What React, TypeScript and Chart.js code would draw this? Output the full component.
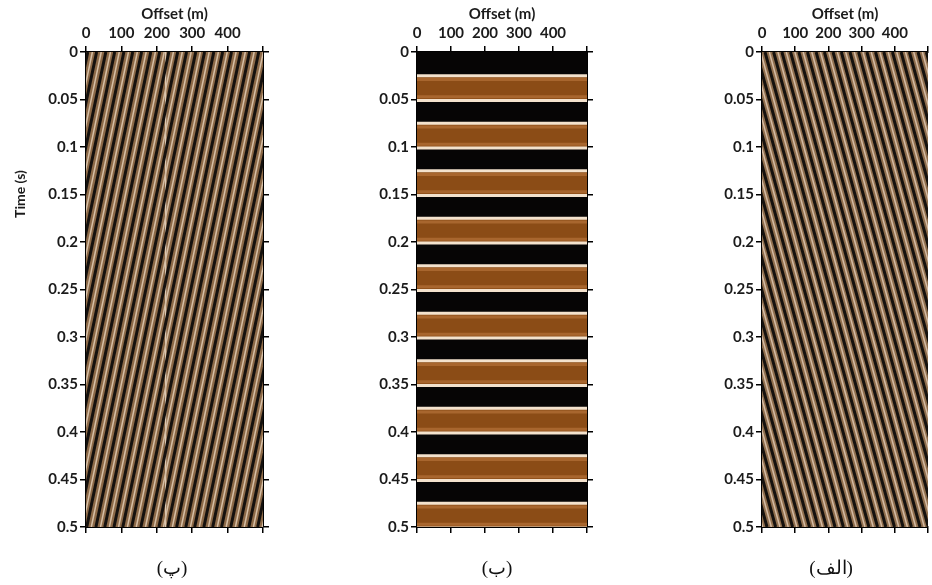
import React, { useEffect, useRef } from "react";
import { Chart, registerables } from "chart.js";

Chart.register(...registerables);

// ---------- axes ----------
const offsetTickValues = [0, 100, 200, 300, 400, 500];
const offsetTickLabels = ["0", "100", "200", "300", "400", ""];
const timeTickValues = [0, 0.05, 0.1, 0.15, 0.2, 0.25, 0.3, 0.35, 0.4, 0.45, 0.5];
const timeTickLabels = ["0", "0.05", "0.1", "0.15", "0.2", "0.25", "0.3", "0.35", "0.4", "0.45", "0.5"];
const OFFSET_MIN = 0;
const OFFSET_MAX = 500;
const TIME_MIN = 0;
const TIME_MAX = 0.5;

const panelLabels = ["(پ)", "(ب)", "(الف)"];
const xTitle = "Offset (m)";
const yTitle = "Time (s)";

// ---------- panel (پ): dipping events, offset (m) at t = 0 ----------
const panelPDarkTop = [5, 30, 56, 81, 107, 132, 157, 183, 208, 234, 259, 284, 310, 335, 361, 386, 411, 437, 462, 488, 513, 538, 564, 589, 615, 640, 665, 691, 716, 742, 767, 792];
const panelPLightTop = [18, 43, 69, 94, 120, 145, 170, 196, 221, 247, 272, 297, 323, 348, 374, 399, 424, 450, 475, 501, 526, 551, 577, 602, 628, 653, 678, 704, 729, 755, 780, 805];
const panelPShift = -282; // offset change of each event between t=0 and t=0.5 s
const panelPSeam = [225];

// ---------- panel (ب): flat events, time (s) of band edges ----------
const panelBBandTop = [0.025, 0.075, 0.125, 0.175, 0.225, 0.275, 0.325, 0.375, 0.425, 0.475];
const panelBBandBottom = [0.051, 0.101, 0.151, 0.201, 0.251, 0.301, 0.351, 0.401, 0.451, 0.501];
const panelBEdgeHalo = 0.004; // width (s) of the lighter rim inside each band

// ---------- panel (الف): dipping events, offset (m) at t = 0 ----------
const panelADarkTop = [-401, -375, -349, -324, -298, -273, -247, -221, -196, -170, -145, -119, -93, -68, -42, -17, 9, 35, 60, 86, 111, 137, 163, 188, 214, 239, 265, 291, 316, 342, 367, 393, 419, 444, 470, 495];
const panelALightTop = [-388, -362, -336, -311, -285, -260, -234, -208, -183, -157, -132, -106, -80, -55, -29, -4, 22, 48, 73, 99, 124, 150, 176, 201, 227, 252, 278, 304, 329, 355, 380, 406, 432, 457, 483, 508];
const panelAShift = 390;

// ---------- styling ----------
const FONT = "Lato, 'Noto Sans', sans-serif";
const TEXT = "#1b1b1b";

const areaFill = {
  id: "areaFill",
  beforeDatasetsDraw(chart: any, _a: any, opts: any) {
    const { ctx, chartArea: a } = chart;
    if (!opts || !opts.color) return;
    ctx.save();
    ctx.fillStyle = opts.color;
    ctx.fillRect(a.left, a.top, a.width, a.height);
    ctx.restore();
  },
};

const sideTitle = {
  id: "sideTitle",
  afterDraw(chart: any, _a: any, opts: any) {
    if (!opts || !opts.text) return;
    const { ctx } = chart;
    ctx.save();
    ctx.translate(opts.x, opts.y);
    ctx.rotate(-Math.PI / 2);
    ctx.font = `bold 14px ${FONT}`;
    ctx.fillStyle = TEXT;
    ctx.textAlign = "center";
    ctx.textBaseline = "middle";
    ctx.fillText(opts.text, 0, 0);
    ctx.restore();
  },
};

function stripe(top: number, shift: number, color: string, width: number) {
  return {
    data: [
      { x: top, y: TIME_MIN },
      { x: top + shift, y: TIME_MAX },
    ],
    borderColor: color,
    borderWidth: width,
    pointRadius: 0,
    fill: false,
    tension: 0,
    clip: 0,
  };
}

function flat(t: number, color: string, width: number, fill: any, bg?: string) {
  return {
    data: [
      { x: OFFSET_MIN, y: t },
      { x: OFFSET_MAX, y: t },
    ],
    borderColor: color,
    borderWidth: width,
    pointRadius: 0,
    fill,
    backgroundColor: bg || "transparent",
    tension: 0,
    clip: 0,
  };
}

type Layout = {
  left: number;
  width: number;
  leftAxis: number;
  rightAxis: number;
  yTitle?: string;
};

const TOP_AXIS_H = 52;
const BOTTOM_AXIS_H = 58;
const HEIGHT = 585;

function scales(layout: Layout) {
  const tickFont = { family: FONT, size: 15, weight: "bold" as const };
  const grid = {
    display: true,
    drawOnChartArea: false,
    drawTicks: true,
    tickLength: 6,
    color: "#000",
    lineWidth: 1.5,
  };
  const border = { display: true, color: "#000", width: 2 };
  return {
    x: {
      type: "linear",
      axis: "x",
      position: "top",
      min: OFFSET_MIN,
      max: OFFSET_MAX,
      z: 1,
      grid,
      border,
      afterBuildTicks: (s: any) => {
        s.ticks = offsetTickValues.map((v) => ({ value: v }));
      },
      ticks: {
        autoSkip: false,
        maxRotation: 0,
        padding: 4,
        color: TEXT,
        font: tickFont,
        callback: (_v: any, i: number) => offsetTickLabels[i],
      },
      title: {
        display: true,
        text: xTitle,
        color: TEXT,
        font: { family: FONT, size: 15, weight: "bold" as const },
        padding: { top: 5, bottom: 0 },
      },
      afterFit: (s: any) => {
        s.height = TOP_AXIS_H;
      },
    },
    x2: {
      type: "linear",
      axis: "x",
      position: "bottom",
      min: OFFSET_MIN,
      max: OFFSET_MAX,
      z: 1,
      grid,
      border,
      afterBuildTicks: (s: any) => {
        s.ticks = offsetTickValues.map((v) => ({ value: v }));
      },
      ticks: { autoSkip: false, callback: () => "", padding: 0 },
      afterFit: (s: any) => {
        s.height = BOTTOM_AXIS_H;
      },
    },
    y: {
      type: "linear",
      axis: "y",
      position: "left",
      reverse: true,
      min: TIME_MIN,
      max: TIME_MAX,
      z: 1,
      grid,
      border,
      afterBuildTicks: (s: any) => {
        s.ticks = timeTickValues.map((v) => ({ value: v }));
      },
      ticks: {
        autoSkip: false,
        padding: 2,
        color: TEXT,
        font: tickFont,
        callback: (_v: any, i: number) => timeTickLabels[i],
      },
      afterFit: (s: any) => {
        s.width = layout.leftAxis;
      },
    },
    y2: {
      type: "linear",
      axis: "y",
      position: "right",
      display: layout.rightAxis > 0,
      reverse: true,
      min: TIME_MIN,
      max: TIME_MAX,
      z: 1,
      grid,
      border,
      afterBuildTicks: (s: any) => {
        s.ticks = timeTickValues.map((v) => ({ value: v }));
      },
      ticks: { autoSkip: false, callback: () => "", padding: 0 },
      afterFit: (s: any) => {
        s.width = layout.rightAxis;
      },
    },
  };
}

function panelP() {
  const ds: any[] = [];
  panelPDarkTop.forEach((t) => ds.push(stripe(t, panelPShift, "#15110e", 3)));
  panelPLightTop.forEach((t) => ds.push(stripe(t, panelPShift, "#d6bfa6", 1.5)));
  panelPSeam.forEach((o) =>
    ds.push({
      data: [
        { x: o, y: TIME_MIN },
        { x: o, y: TIME_MAX },
      ],
      borderColor: "rgba(225,205,185,0.7)",
      borderWidth: 1,
      pointRadius: 0,
      fill: false,
      clip: 0,
    })
  );
  return { datasets: ds, bg: "#8c6947" };
}

function panelB() {
  const edges: any[] = [];
  const rims: any[] = [];
  const fills: any[] = [];
  panelBBandTop.forEach((t, i) => {
    const b = panelBBandBottom[i];
    edges.push(flat(t, "#f3e2cd", 3, false));
    edges.push(flat(b, "#f3e2cd", 3, false));
    rims.push(flat(t + panelBEdgeHalo, "#a8662e", 3, false));
    rims.push(flat(b - panelBEdgeHalo, "#a8662e", 3, false));
    fills.push(flat(t, "transparent", 0, false));
    fills.push(flat(b, "transparent", 0, "-1", "#8b4c16"));
  });
  // first datasets are drawn on top: white edges, then rims, then fills
  return { datasets: [...edges, ...rims, ...fills], bg: "#060505" };
}

function panelA() {
  const ds: any[] = [];
  panelADarkTop.forEach((t) => ds.push(stripe(t, panelAShift, "#15110e", 3)));
  panelALightTop.forEach((t) => ds.push(stripe(t, panelAShift, "#d4bba4", 1.5)));
  return { datasets: ds, bg: "#8f6e4d" };
}

function Panel({ layout, build }: { layout: Layout; build: () => { datasets: any[]; bg: string } }) {
  const ref = useRef<HTMLCanvasElement | null>(null);
  useEffect(() => {
    if (!ref.current) return;
    const { datasets, bg } = build();
    const chart = new Chart(ref.current, {
      type: "line",
      data: { datasets },
      options: {
        responsive: false,
        animation: false,
        devicePixelRatio: 1,
        layout: { padding: 0 },
        events: [],
        plugins: {
          legend: { display: false },
          tooltip: { enabled: false },
          filler: { propagate: false },
          areaFill: { color: bg },
          sideTitle: layout.yTitle ? { text: layout.yTitle, x: 20, y: 194 } : {},
        } as any,
        scales: scales(layout) as any,
      },
      plugins: [areaFill, sideTitle],
    });
    return () => chart.destroy();
  }, []);
  return (
    <canvas
      ref={ref}
      width={layout.width}
      height={HEIGHT}
      style={{ position: "absolute", left: layout.left, top: 0, width: layout.width, height: HEIGHT, display: "block" }}
    />
  );
}

const layouts: Layout[] = [
  { left: 0, width: 273, leftAxis: 86, rightAxis: 10, yTitle },
  { left: 330, width: 267, leftAxis: 87, rightAxis: 10 },
  { left: 680, width: 252, leftAxis: 82, rightAxis: 0 },
];

const labelCenters = [172, 497, 831];

export default function App() {
  return (
    <div style={{ position: "absolute", left: 0, top: 0, width: 932, height: 585, background: "#fff", overflow: "hidden" }}>
      <Panel layout={layouts[0]} build={panelP} />
      <Panel layout={layouts[1]} build={panelB} />
      <Panel layout={layouts[2]} build={panelA} />
      {panelLabels.map((lab, i) => (
        <div
          key={i}
          style={{
            position: "absolute",
            left: labelCenters[i] - 50,
            width: 100,
            top: 556,
            height: 24,
            lineHeight: "24px",
            textAlign: "center",
            fontFamily: "'Liberation Serif', 'DejaVu Serif', serif",
            fontSize: 19,
            color: "#111",
          }}
        >
          {lab}
        </div>
      ))}
    </div>
  );
}
